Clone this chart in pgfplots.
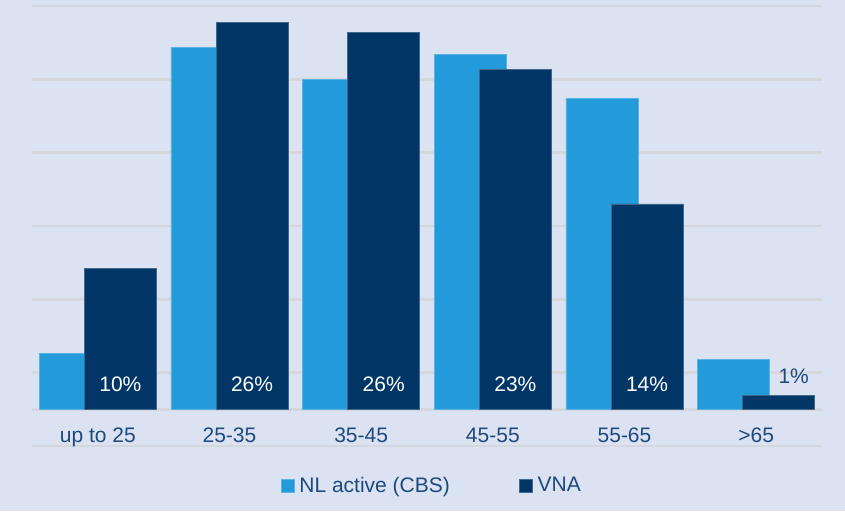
\documentclass[border=0pt]{standalone}
\usepackage{pgfplots}
\pgfplotsset{compat=1.18}
\usepackage{fontspec}
\setmainfont{Liberation Sans}
\definecolor{bg}{RGB}{219,227,243}
\definecolor{gridc}{RGB}{214,215,220}
\definecolor{light}{RGB}{35,155,218}
\definecolor{dark}{RGB}{1,54,103}
\definecolor{txt}{RGB}{31,73,125}
\begin{document}
\fontsize{21}{25}\selectfont
\begin{tikzpicture}[x=1pt,y=1pt]
\fill[bg] (0,0) rectangle (845,511);
\useasboundingbox (0,0) rectangle (845,511);
\begin{axis}[
  at={(32pt,65pt)}, anchor=south west, scale only axis,
  width=790pt, height=440pt,
  xmin=-0.5, xmax=5.5, ymin=-2.5, ymax=27.5,
  axis line style={draw=none},
  ytick={-2.5,0,2.5,7.5,12.5,17.5,22.5,27.5},
  yticklabels={},
  ymajorgrids, grid style={gridc, line width=2.5pt},
  major tick length=0pt,
  xtick={0,1,2,3,4,5},
  xticklabels={up to 25,25-35,35-45,45-55,55-65,>65},
  xticklabel style={anchor=base, yshift=3pt, text=txt},
  ybar, bar width=0.547,
  legend columns=2,
  legend style={at={(rel axis cs:0.5066,-0.091)}, anchor=center, draw=none, fill=none, text=txt,
    nodes={inner xsep=2.5pt},
    /tikz/every even column/.append style={column sep=67pt}},
  legend image code/.code={\fill[#1] (-1pt,-6pt) rectangle (12pt,7pt);},
]
\addplot[fill=light, draw=light!75!white, line width=0.8pt, bar shift=-0.171]
  coordinates {(0,3.8) (1,24.7) (2,22.5) (3,24.2) (4,21.2) (5,3.4)};
\addlegendentry{\hspace{2pt}NL active (CBS)}
\addplot[fill=dark, draw=dark!75!white, line width=0.8pt, bar shift=0.171]
  coordinates {(0,9.6) (1,26.4) (2,25.7) (3,23.2) (4,14.0) (5,0.96)};
\addlegendentry{\hspace{2pt}VNA}
\node[text=white, anchor=base] at (axis cs:0.171,1.23) {10\%};
\node[text=white, anchor=base] at (axis cs:1.171,1.23) {26\%};
\node[text=white, anchor=base] at (axis cs:2.171,1.23) {26\%};
\node[text=white, anchor=base] at (axis cs:3.171,1.23) {23\%};
\node[text=white, anchor=base] at (axis cs:4.171,1.23) {14\%};
\node[text=txt, anchor=base] at (axis cs:5.285,1.77) {1\%};
\end{axis}
\end{tikzpicture}
\end{document}
